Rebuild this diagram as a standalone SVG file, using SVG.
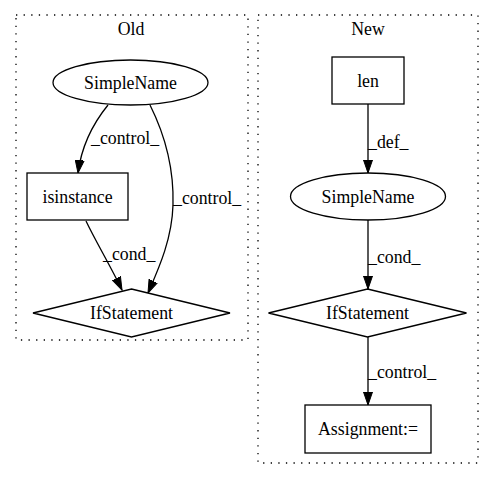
<svg xmlns="http://www.w3.org/2000/svg" width="493" height="480" viewBox="0 0 493 480">
<defs>
<style>
text{font-family:"Liberation Serif","Times New Roman",serif;font-size:17.8px;fill:#000;text-anchor:middle}
.cl{fill:none;stroke:#000;stroke-width:1.3;stroke-dasharray:1.3,6.3}
.n{fill:#fff;stroke:#000;stroke-width:1.3}
.e{fill:none;stroke:#000;stroke-width:1.3;marker-end:url(#ah)}
.lbl{text-anchor:start}
</style>
<marker id="ah" markerUnits="userSpaceOnUse" markerWidth="14" markerHeight="10" refX="13" refY="5" orient="auto" viewBox="0 0 14 10">
<path d="M0,0.5 L13,5 L0,9.5 Z" fill="#000" stroke="#000" stroke-width="1"/>
</marker>
</defs>
<rect width="493" height="480" fill="#fff"/>
<g id="cluster_old">
<rect class="cl" x="16" y="15" width="232" height="325"/>
<text x="131" y="35">Old</text>
</g>
<g id="cluster_new">
<rect class="cl" x="258" y="15" width="220" height="448"/>
<text x="368" y="35">New</text>
</g>
<g id="edges">
<path class="e" d="M108,105 C95,121 82,142 78,173"/>
<text class="lbl" x="91" y="144">_control_</text>
<path class="e" d="M150,105 C165,135 174,170 173,205 C172,240 158,270 148,293"/>
<text class="lbl" x="173" y="204">_control_</text>
<path class="e" d="M86,221 C96,242 110,265 122,290"/>
<text class="lbl" x="103" y="260">_cond_</text>
<path class="e" d="M368,104 L368,173"/>
<text class="lbl" x="368" y="148">_def_</text>
<path class="e" d="M368,220 L368,289"/>
<text class="lbl" x="368" y="263">_cond_</text>
<path class="e" d="M368,337 L368,405"/>
<text class="lbl" x="368" y="378">_control_</text>
</g>
<g id="old_simplename">
<ellipse class="n" cx="130.5" cy="82.5" rx="77.5" ry="22.5"/>
<text x="130.5" y="88.5">SimpleName</text>
</g>
<g id="old_isinstance">
<rect class="n" x="27" y="173" width="101" height="47"/>
<text x="77.5" y="202.5">isinstance</text>
</g>
<g id="old_ifstatement">
<polygon class="n" points="131.5,289 230,313 131.5,337 33,313"/>
<text x="131.5" y="319">IfStatement</text>
</g>
<g id="new_len">
<rect class="n" x="332" y="57" width="72" height="47"/>
<text x="368" y="86.5">len</text>
</g>
<g id="new_simplename">
<ellipse class="n" cx="368" cy="196.5" rx="77.5" ry="23.5"/>
<text x="368" y="202.5">SimpleName</text>
</g>
<g id="new_ifstatement">
<polygon class="n" points="367.5,289 466.5,313 367.5,337 268.5,313"/>
<text x="367.5" y="319">IfStatement</text>
</g>
<g id="new_assignment">
<rect class="n" x="305" y="405" width="126" height="48"/>
<text x="368" y="435">Assignment:=</text>
</g>
</svg>
